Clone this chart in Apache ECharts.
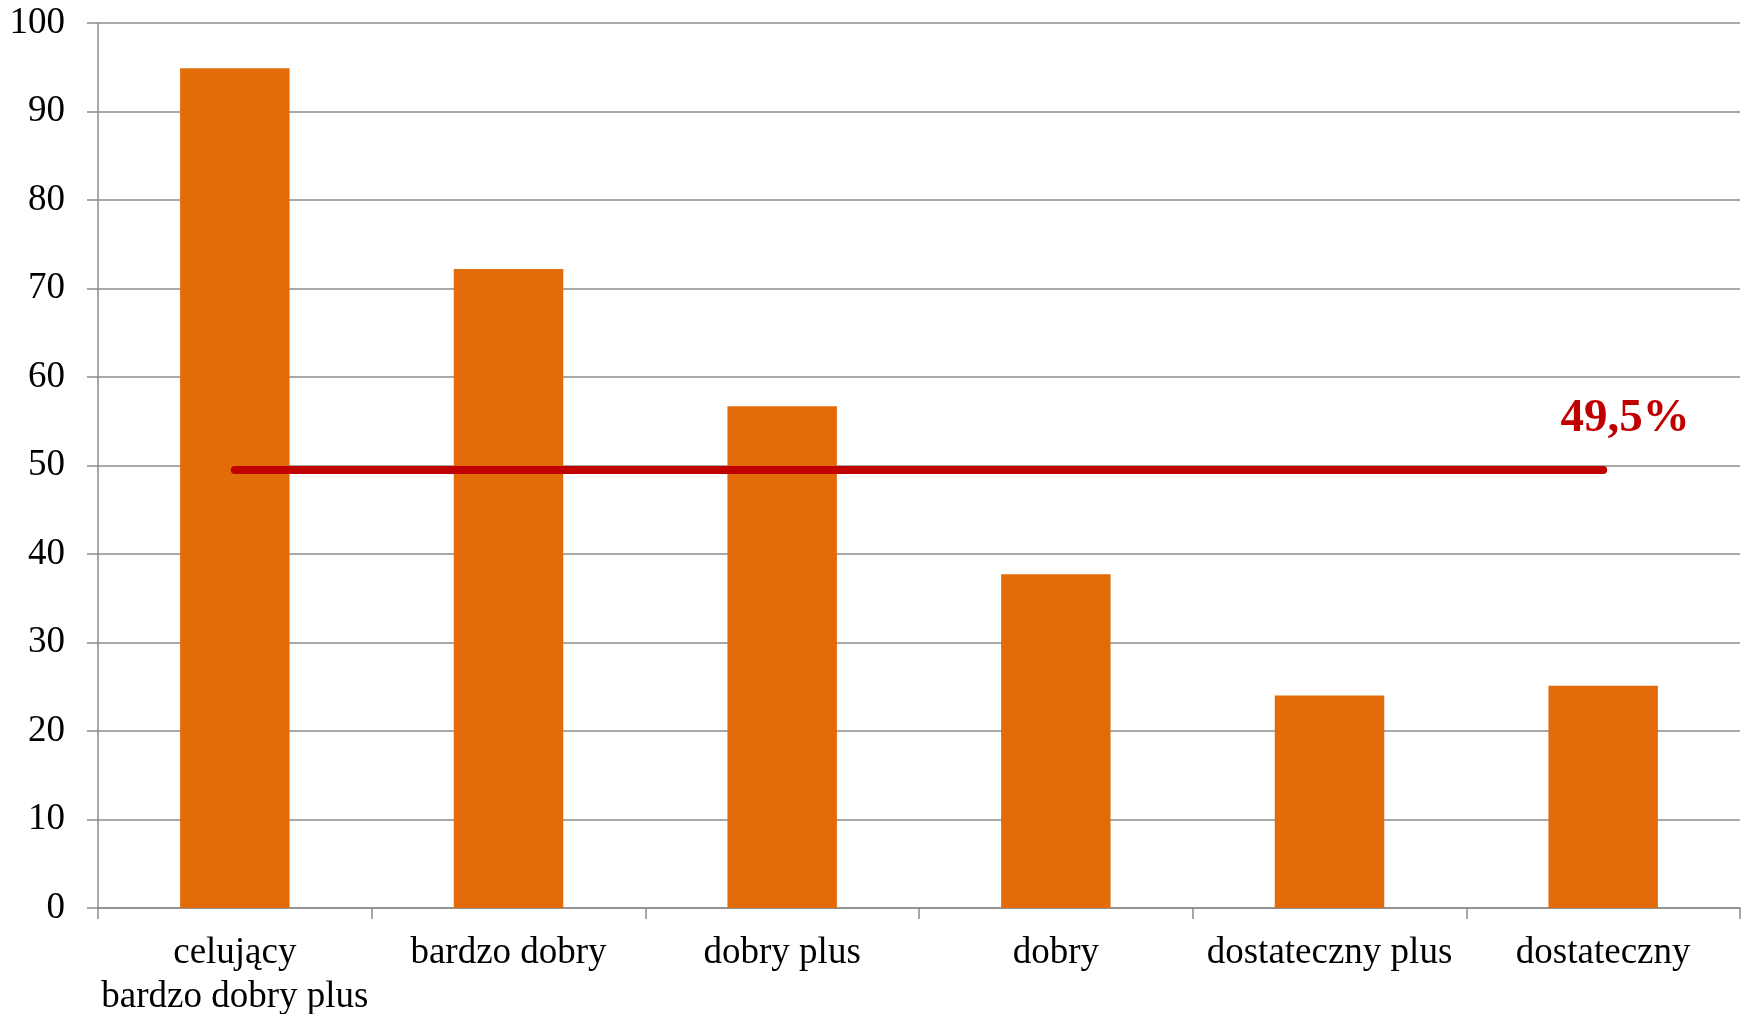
<!DOCTYPE html>
<html>
<head>
<meta charset="utf-8">
<script src="https://cdn.jsdelivr.net/npm/echarts@6/dist/echarts.min.js"></script>
<style>
html, body { margin: 0; padding: 0; background: #fff; }
#chart { width: 1746px; height: 1014px; }
</style>
</head>
<body>
<div id="chart"></div>
<script>
// dane
var categories = ['celujący\nbardzo dobry plus', 'bardzo dobry', 'dobry plus', 'dobry', 'dostateczny plus', 'dostateczny'];
var values = [94.9, 72.2, 56.7, 37.7, 24.0, 25.1];
var average = [49.5, 49.5, 49.5, 49.5, 49.5, 49.5];
var yTicks = [0, 10, 20, 30, 40, 50, 60, 70, 80, 90, 100];

var font = "'Liberation Serif', 'Times New Roman', serif";
var myChart = echarts.init(document.getElementById('chart'));

var avgData = average.map(function (v, i) {
	if (i === average.length - 1) {
		return {
			value: v,
			label: {
				show: true,
				position: 'top',
				distance: 28,
				offset: [22, 0],
				formatter: function (p) { return String(p.value).replace('.', ',') + '%'; },
				color: '#C00000',
				fontFamily: font,
				fontWeight: 'bold',
				fontSize: 47
			}
		};
	}
	return v;
});

option = {
	animation: false,
	grid: {
		left: 98,
		right: 6,
		top: 23,
		bottom: 106,
		containLabel: false,
		outerBoundsMode: 'none'
	},
	xAxis: [{
		type: 'category',
		data: categories,
		boundaryGap: true,
		axisLine: {
			lineStyle: { color: '#8c8c8c', width: 1.5 }
		},
		axisTick: {
			show: true,
			length: 11,
			lineStyle: { color: '#8c8c8c', width: 1.5 }
		},
		axisLabel: {
			color: '#000',
			fontFamily: font,
			fontSize: 37,
			lineHeight: 44,
			margin: 23,
			interval: 0
		},
		splitLine: { show: false }
	}],
	yAxis: [{
		type: 'value',
		min: yTicks[0],
		max: yTicks[yTicks.length - 1],
		interval: 10,
		axisLine: {
			show: true,
			lineStyle: { color: '#8c8c8c', width: 1.5 }
		},
		axisTick: {
			show: true,
			length: 11,
			lineStyle: { color: '#8c8c8c', width: 1.5 }
		},
		axisLabel: {
			color: '#000',
			fontFamily: font,
			fontSize: 37,
			margin: 33
		},
		splitLine: {
			show: true,
			lineStyle: { color: '#8c8c8c', width: 1.5 }
		}
	}],
	series: [{
		name: 'wynik',
		type: 'bar',
		barWidth: '40%',
		itemStyle: { color: '#E36C0A' },
		data: values
	}, {
		name: 'średnia',
		type: 'line',
		symbol: 'circle',
		symbolSize: 0,
		showSymbol: true,
		lineStyle: { color: '#C00000', width: 8, cap: 'round' },
		itemStyle: { color: '#C00000' },
		data: avgData,
		z: 5
	}]
};

myChart.setOption(option);
window.addEventListener('resize', function () {
	myChart.resize();
});
</script>
</body>
</html>
